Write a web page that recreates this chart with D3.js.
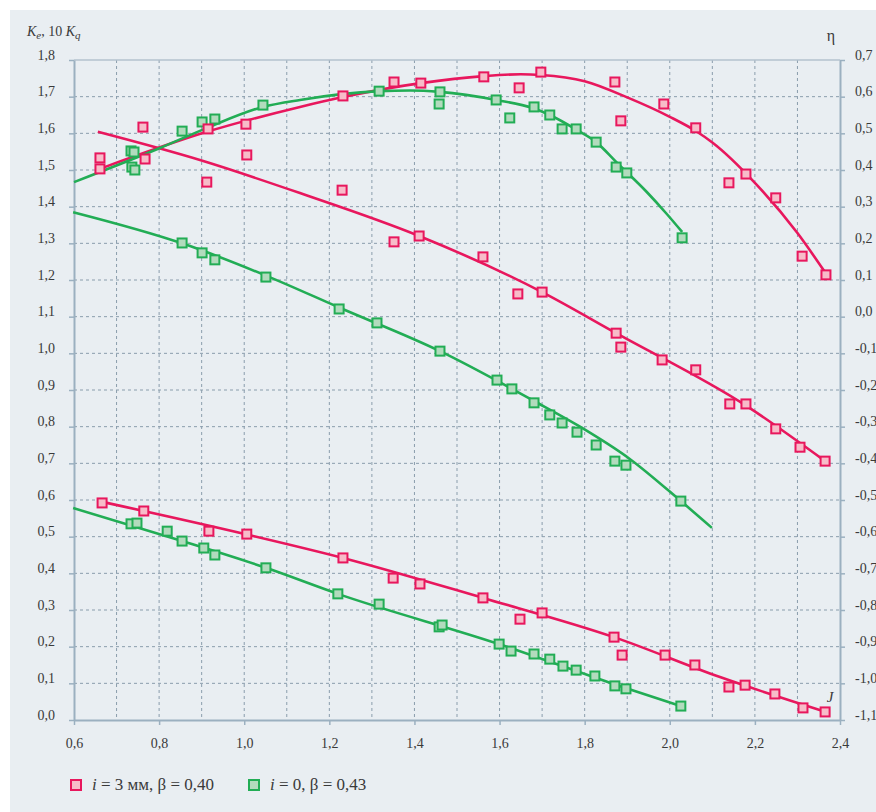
<!DOCTYPE html>
<html>
<head>
<meta charset="utf-8">
<script src="https://cdn.jsdelivr.net/npm/d3@7"></script>
<style>
  body { margin: 0; background: #fff; }
  svg text { font-family: "Liberation Serif", "DejaVu Serif", serif; fill: #3a3a3a; }
</style>
</head>
<body>
<script>
// tick labels
const J_TICKS = [0.6, 0.8, 1.0, 1.2, 1.4, 1.6, 1.8, 2.0, 2.2, 2.4];
const K_TICKS = [0, 0.1, 0.2, 0.3, 0.4, 0.5, 0.6, 0.7, 0.8, 0.9, 1.0, 1.1, 1.2, 1.3, 1.4, 1.5, 1.6, 1.7, 1.8];
const ETA_TICKS = [-1.1, -1.0, -0.9, -0.8, -0.7, -0.6, -0.5, -0.4, -0.3, -0.2, -0.1, 0, 0.1, 0.2, 0.3, 0.4, 0.5, 0.6, 0.7];

// i = 3 mm, beta = 0.40  (pink)
const pinkEtaPts = [[0.661,0.433],[0.661,0.403],[0.762,0.517],[0.767,0.430],[0.915,0.512],[0.912,0.367],
  [1.004,0.525],[1.006,0.441],[1.230,0.345],[1.232,0.602],[1.352,0.640],[1.415,0.637],[1.563,0.654],
  [1.646,0.624],[1.697,0.667],[1.871,0.640],[1.885,0.534],[1.986,0.580],[2.061,0.515],[2.139,0.365],
  [2.179,0.389],[2.249,0.324],[2.311,0.165],[2.367,0.114]];
const pinkEtaFit = [[0.661,0.403],[0.912,0.504],[1.131,0.572],[1.232,0.599],[1.415,0.637],[1.563,0.656],
  [1.650,0.661],[1.697,0.659],[1.800,0.642],[1.900,0.598],[2.000,0.545],[2.063,0.505],[2.100,0.475],
  [2.200,0.365],[2.300,0.228],[2.369,0.114]];
const pinkKePts = [[1.352,1.304],[1.411,1.320],[1.561,1.263],[1.643,1.162],[1.700,1.167],[1.874,1.055],
  [1.885,1.017],[1.982,0.982],[2.061,0.955],[2.141,0.862],[2.179,0.862],[2.249,0.794],[2.306,0.744],[2.365,0.706]];
const pinkKeFit = [[0.656,1.604],[0.896,1.527],[1.131,1.437],[1.411,1.320],[1.700,1.167],[1.874,1.055],
  [2.181,0.856],[2.365,0.706]];
const pinkKqPts = [[0.666,0.592],[0.764,0.570],[0.917,0.515],[1.006,0.507],[1.232,0.442],[1.350,0.387],
  [1.413,0.371],[1.561,0.333],[1.648,0.275],[1.700,0.292],[1.869,0.226],[1.888,0.177],[1.989,0.177],
  [2.059,0.150],[2.139,0.090],[2.177,0.095],[2.247,0.071],[2.313,0.033],[2.365,0.022]];
const pinkKqFit = [[0.666,0.595],[1.006,0.506],[1.232,0.442],[1.561,0.333],[1.869,0.226],[2.118,0.117],[2.367,0.022]];

// i = 0, beta = 0.43  (green)
const greenEtaPts = [[0.734,0.452],[0.741,0.449],[0.736,0.408],[0.743,0.400],[0.854,0.506],[0.901,0.531],
  [0.931,0.539],[1.044,0.577],[1.317,0.615],[1.460,0.613],[1.458,0.580],[1.592,0.591],[1.624,0.542],
  [1.681,0.572],[1.718,0.550],[1.747,0.512],[1.780,0.512],[1.827,0.476],[1.874,0.408],[1.899,0.392],[2.029,0.215]];
const greenEtaFit = [[0.600,0.367],[0.802,0.460],[0.913,0.515],[1.044,0.572],[1.131,0.591],[1.317,0.615],
  [1.390,0.617],[1.460,0.613],[1.592,0.591],[1.678,0.569],[1.718,0.550],[1.782,0.509],[1.827,0.476],
  [1.874,0.422],[1.946,0.340],[1.993,0.280],[2.029,0.231]];
const greenKePts = [[0.854,1.301],[0.901,1.274],[0.931,1.255],[1.051,1.208],[1.223,1.121],[1.312,1.083],
  [1.460,1.006],[1.594,0.927],[1.629,0.903],[1.681,0.865],[1.718,0.832],[1.747,0.810],[1.782,0.785],
  [1.827,0.750],[1.871,0.706],[1.897,0.695],[2.026,0.597]];
const greenKeFit = [[0.598,1.385],[0.854,1.300],[1.051,1.212],[1.223,1.125],[1.460,1.006],[1.681,0.870],
  [1.789,0.800],[1.906,0.712],[2.026,0.597],[2.099,0.524]];
const greenKqPts = [[0.734,0.535],[0.748,0.537],[0.819,0.515],[0.854,0.488],[0.905,0.469],[0.931,0.450],
  [1.051,0.415],[1.220,0.344],[1.317,0.316],[1.458,0.254],[1.465,0.259],[1.599,0.207],[1.627,0.188],
  [1.681,0.180],[1.718,0.166],[1.749,0.147],[1.780,0.136],[1.824,0.120],[1.871,0.093],[1.897,0.085],[2.026,0.038]];
const greenKqFit = [[0.598,0.578],[0.854,0.488],[1.051,0.415],[1.220,0.344],[1.599,0.207],[1.871,0.097],[2.026,0.038]];

const PINK = { line: '#e8175d', fill: '#f7bcc9' };
const GREEN = { line: '#22ad55', fill: '#b2dbbd' };
const AXIS = '#9bb0c0';
const GRID = '#8a9dac';

const W = 876, H = 812;
const margin = { top: 60, right: 36, bottom: 92, left: 74 };

const svg = d3.select('body').append('svg')
  .attr('width', W)
  .attr('height', H);

svg.append('rect')
  .attr('x', 10).attr('y', 10)
  .attr('width', W - 10).attr('height', H - 10)
  .attr('fill', '#e9eef2');

const x = d3.scaleLinear().domain([0.6, 2.4]).range([margin.left, W - margin.right]);
const yK = d3.scaleLinear().domain([0, 1.8]).range([H - margin.bottom, margin.top]);
const yEta = d3.scaleLinear().domain([-1.1, 0.7]).range([H - margin.bottom, margin.top]);

const fmt = v => d3.format('.1f')(v).replace('.', ',').replace('−', '-');

// grid
const grid = svg.append('g')
  .attr('stroke', GRID)
  .attr('stroke-width', 1)
  .attr('stroke-dasharray', '3,3');
grid.selectAll('line.v')
  .data(d3.range(7, 24).map(d => d / 10))
  .join('line')
  .attr('x1', d => x(d)).attr('x2', d => x(d))
  .attr('y1', yK(1.8)).attr('y2', yK(0));
grid.selectAll('line.h')
  .data(d3.range(1, 18).map(d => d / 10))
  .join('line')
  .attr('x1', x(0.6)).attr('x2', x(2.4))
  .attr('y1', d => yK(d)).attr('y2', d => yK(d));

svg.append('line')
  .attr('x1', x(0.6)).attr('x2', x(2.4))
  .attr('y1', yK(1.8)).attr('y2', yK(1.8))
  .attr('stroke', '#b3c2ce').attr('stroke-width', 1.5);

function styleAxis(g) {
  g.select('.domain').attr('stroke', AXIS).attr('stroke-width', 2);
  g.selectAll('.tick line').attr('stroke', AXIS).attr('stroke-width', 1.5);
  g.selectAll('.tick text')
    .attr('fill', '#3a3a3a')
    .style('font-size', '14px')
    .style('font-family', '"Liberation Serif", serif');
}

svg.append('g')
  .attr('transform', `translate(${x(0.6)},0)`)
  .call(d3.axisLeft(yK).tickValues(K_TICKS).tickFormat(fmt).tickSize(5).tickSizeOuter(0).tickPadding(14))
  .call(styleAxis)
  .call(g => g.selectAll('.tick text').attr('dy', '-1'));

svg.append('g')
  .attr('transform', `translate(${x(2.4)},0)`)
  .call(d3.axisRight(yEta).tickValues(ETA_TICKS).tickFormat(fmt).tickSize(5).tickSizeOuter(0).tickPadding(10))
  .call(styleAxis)
  .call(g => g.selectAll('.tick text').attr('dy', '-1'));

svg.append('g')
  .attr('transform', `translate(0,${yK(0)})`)
  .call(d3.axisBottom(x).tickValues(J_TICKS).tickFormat(fmt).tickSize(5).tickSizeOuter(0).tickPadding(13))
  .call(styleAxis);

// curves
const lineK = d3.line().x(d => x(d[0])).y(d => yK(d[1])).curve(d3.curveMonotoneX);
const lineEta = d3.line().x(d => x(d[0])).y(d => yEta(d[1])).curve(d3.curveMonotoneX);

const fits = [
  { data: pinkEtaFit, gen: lineEta, c: PINK },
  { data: pinkKeFit, gen: lineK, c: PINK },
  { data: pinkKqFit, gen: lineK, c: PINK },
  { data: greenEtaFit, gen: lineEta, c: GREEN },
  { data: greenKeFit, gen: lineK, c: GREEN },
  { data: greenKqFit, gen: lineK, c: GREEN },
];
svg.append('g').selectAll('path')
  .data(fits)
  .join('path')
  .attr('d', d => d.gen(d.data))
  .attr('fill', 'none')
  .attr('stroke', d => d.c.line)
  .attr('stroke-width', 2.6);

// markers
const S = 9;
const pointSets = [
  { data: greenEtaPts, y: yEta, c: GREEN },
  { data: greenKePts, y: yK, c: GREEN },
  { data: greenKqPts, y: yK, c: GREEN },
  { data: pinkEtaPts, y: yEta, c: PINK },
  { data: pinkKePts, y: yK, c: PINK },
  { data: pinkKqPts, y: yK, c: PINK },
];
pointSets.forEach(set => {
  svg.append('g').selectAll('rect')
    .data(set.data)
    .join('rect')
    .attr('x', d => x(d[0]) - S / 2)
    .attr('y', d => set.y(d[1]) - S / 2)
    .attr('width', S).attr('height', S)
    .attr('fill', set.c.fill)
    .attr('stroke', set.c.line)
    .attr('stroke-width', 2);
});

// axis titles
const kTitle = svg.append('text')
  .attr('x', 27).attr('y', 36)
  .style('font-size', '14px');
kTitle.append('tspan').attr('font-style', 'italic').text('K');
kTitle.append('tspan').attr('font-style', 'italic').attr('dy', 3).style('font-size', '11px').text('e');
kTitle.append('tspan').attr('dy', -3).text(', 10 ');
kTitle.append('tspan').attr('font-style', 'italic').text('K');
kTitle.append('tspan').attr('font-style', 'italic').attr('dy', 3).style('font-size', '11px').text('q');

svg.append('text')
  .attr('x', 831).attr('y', 41)
  .attr('text-anchor', 'middle')
  .style('font-size', '16px')
  .text('η');

svg.append('text')
  .attr('x', 830).attr('y', 702)
  .attr('text-anchor', 'middle')
  .attr('font-style', 'italic')
  .style('font-size', '15px')
  .text('J');

// legend
const legend = [
  { c: PINK, x: 70, rest: ' = 3 мм, β = 0,40' },
  { c: GREEN, x: 248, rest: ' = 0, β = 0,43' },
];
const lg = svg.append('g').selectAll('g')
  .data(legend)
  .join('g')
  .attr('transform', d => `translate(${d.x},779)`);
lg.append('rect')
  .attr('x', 1).attr('y', 1)
  .attr('width', 10).attr('height', 10)
  .attr('fill', d => d.c.fill)
  .attr('stroke', d => d.c.line)
  .attr('stroke-width', 2);
const lt = lg.append('text')
  .attr('x', 22).attr('y', 11)
  .style('font-size', '17px');
lt.append('tspan').attr('font-style', 'italic').text('i');
lt.append('tspan').text(d => d.rest);
</script>
</body>
</html>
